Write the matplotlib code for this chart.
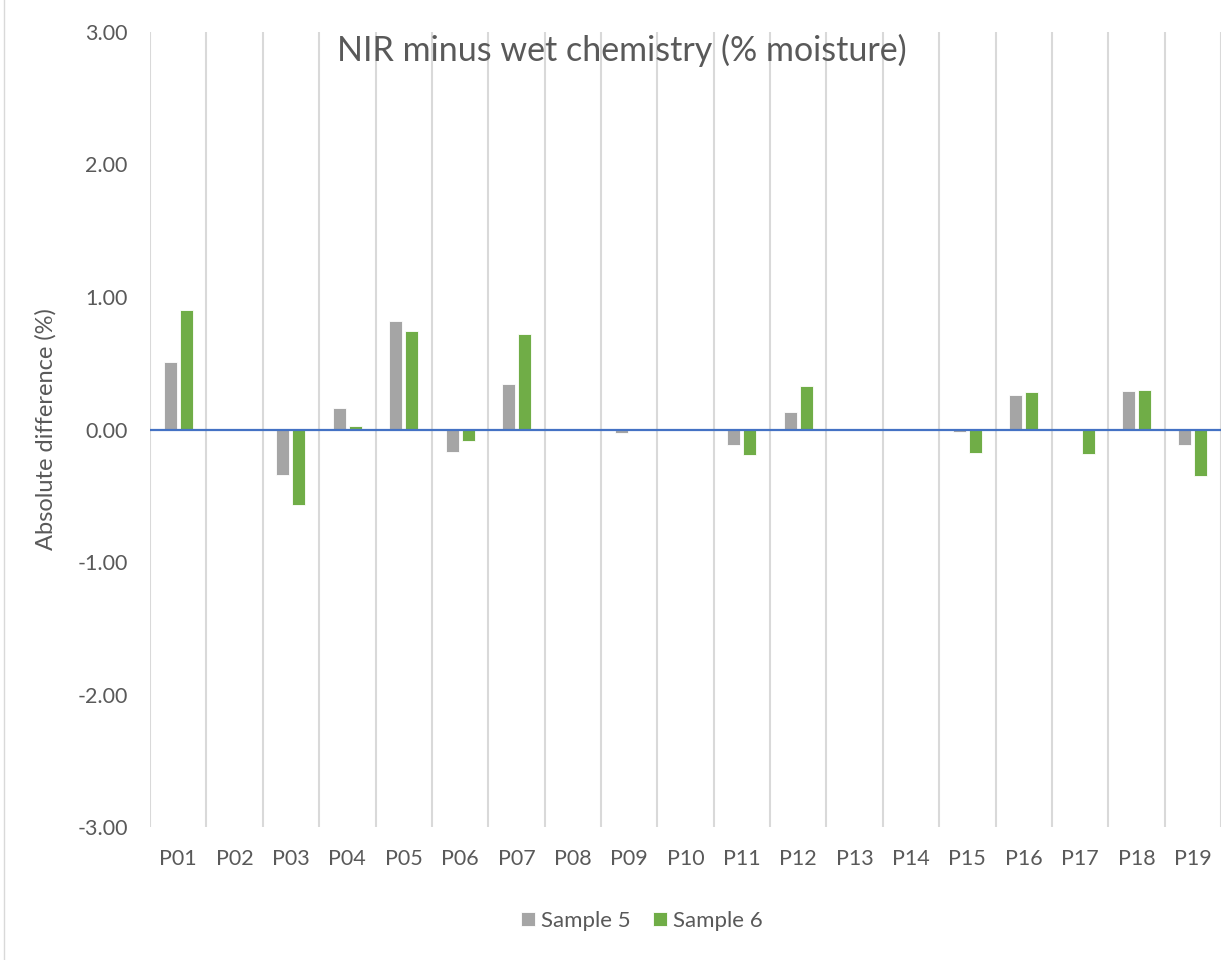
import matplotlib.pyplot as plt
import numpy as np

plt.rcParams['font.family'] = ['Lato', 'DejaVu Sans']

# Datos
plantas = ['P01', 'P02', 'P03', 'P04', 'P05', 'P06', 'P07', 'P08', 'P09', 'P10',
           'P11', 'P12', 'P13', 'P14', 'P15', 'P16', 'P17', 'P18', 'P19']
sample5 = [0.51, 0, -0.345, 0.166, 0.82, -0.166, 0.345, 0, -0.03, 0,
           -0.115, 0.133, 0, 0, -0.02, 0.264, 0.005, 0.29, -0.115]
sample6 = [0.90, 0, -0.57, 0.03, 0.745, -0.09, 0.717, 0, 0, 0,
           -0.196, 0.33, 0, 0, -0.176, 0.285, -0.186, 0.30, -0.35]

gris = '#A5A5A5'
verde = '#70AD47'
texto = '#595959'

x = np.arange(len(plantas))

fig = plt.figure(figsize=(12.21, 9.6), dpi=100)
ax = fig.add_axes([0.1229, 0.1385, 0.8771, 0.8282])

ax.bar(x - 0.142, sample5, width=0.23, color=gris, edgecolor='white', linewidth=0.6, label='Sample 5', zorder=3)
ax.bar(x + 0.142, sample6, width=0.23, color=verde, edgecolor='white', linewidth=0.6, label='Sample 6', zorder=3)

# Líneas verticales entre categorías
for b in np.arange(len(plantas) + 1) - 0.5:
    ax.axvline(b, color='#D9D9D9', linewidth=1.5, zorder=1)
ax.axhline(0, color='#4472C4', linewidth=1.6, zorder=4)

ax.set_xlim(-0.5, len(plantas) - 0.5)
ax.set_ylim(-3, 3)
ax.set_yticks(np.arange(-3, 4, 1))
ax.set_yticklabels(['%.2f' % v for v in np.arange(-3, 4, 1)])
ax.set_xticks(x)
ax.set_xticklabels(plantas)
ax.tick_params(length=0, labelsize=15.5, colors=texto)
ax.tick_params(axis='x', pad=16)
ax.tick_params(axis='y', pad=16)
for s in ax.spines.values():
    s.set_visible(False)

ax.set_ylabel('Absolute difference (%)', fontsize=17, color=texto)
ax.yaxis.set_label_coords(-0.087, 0.5)
fig.text(0.509, 0.947, 'NIR minus wet chemistry (% moisture)', ha='center', va='center',
         fontsize=24.5, color=texto)

fig.legend(loc='center', bbox_to_anchor=(0.526, 0.041), ncol=2, frameon=False,
           fontsize=16, labelcolor=texto, handlelength=0.6, handleheight=0.6,
           handletextpad=0.3, columnspacing=1.0)

# borde del área del gráfico
fig.add_artist(plt.Rectangle((0.003, -0.01), 1.2, 1.2, transform=fig.transFigure,
                             fill=False, edgecolor='#D9D9D9', linewidth=1))

plt.savefig('out.png', dpi=100)
